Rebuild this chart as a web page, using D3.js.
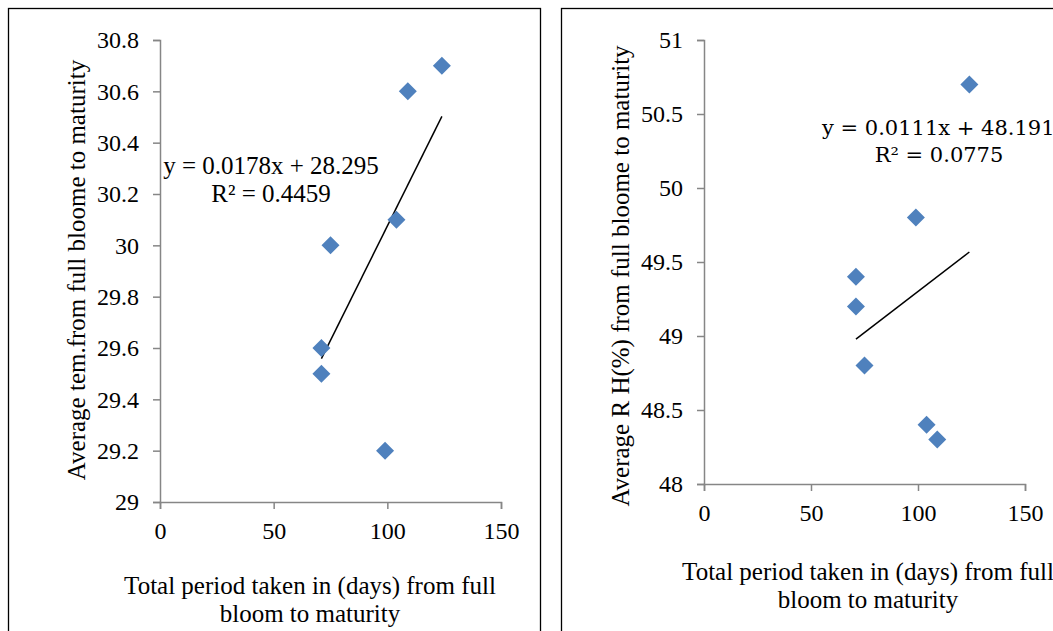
<!DOCTYPE html>
<html>
<head>
<meta charset="utf-8">
<script src="https://cdn.jsdelivr.net/npm/d3@7"></script>
<style>
body { margin: 0; background: #fff; }
svg { display: block; }
svg text { font-family: 'Liberation Serif', 'Times New Roman', Times, 'DejaVu Serif'; fill: #000; }
svg text.eq2 { font-family: 'DejaVu Serif'; }
</style>
</head>
<body>
<div id="vis"></div>
<script>
// shared x values (days from full bloom to maturity)
var days = [124, 109, 104, 75, 71, 71, 99];
var avgTemp = [30.7, 30.6, 30.1, 30.0, 29.6, 29.5, 29.2];
var avgRH = [50.7, 48.3, 48.4, 48.8, 49.4, 49.2, 49.8];
var xTicks = [0, 50, 100, 150];
var tempTicks = [29, 29.2, 29.4, 29.6, 29.8, 30, 30.2, 30.4, 30.6, 30.8];
var rhTicks = [48, 48.5, 49, 49.5, 50, 50.5, 51];
var tempFit = {slope: 0.0178, intercept: 28.295, r2: '0.4459'};
var rhFit = {slope: 0.0111, intercept: 48.191, r2: '0.0775'};

var svg = d3.select('#vis').append('svg').attr('width', 1053).attr('height', 631);

var panels = [
	{
		box: [8.5, 8.5, 532, 640], left: 160, right: 501, top: 40, bottom: 502,
		ys: avgTemp, yDomain: [29, 30.8], yTicks: tempTicks, fit: tempFit,
		yTitle: 'Average tem.from full bloome to maturity', yTitleX: 76, yTitleY: 270,
		xTitleX: 310, xTitleY: 594,
		eqX: 271, eqY: 174, eqClass: 'eq1', eqSize: 25, eqAnchor: 'middle',
		r2X: 271, r2Y: 202
	},
	{
		box: [561.5, 8.5, 540, 640], left: 704, right: 1025, top: 40, bottom: 484,
		ys: avgRH, yDomain: [48, 51], yTicks: rhTicks, fit: rhFit,
		yTitle: 'Average R H(%) from full bloome to maturity', yTitleX: 620, yTitleY: 276,
		xTitleX: 868, xTitleY: 580,
		eqX: 822, eqY: 135, eqClass: 'eq2', eqSize: 21, eqAnchor: 'start',
		r2X: 939, r2Y: 162
	}
];

panels.forEach(function(p) {
	svg.append('rect').attr('x', p.box[0]).attr('y', p.box[1]).attr('width', p.box[2]).attr('height', p.box[3])
		.attr('fill', 'none').attr('stroke', '#000').attr('stroke-width', 1.3);

	var x = d3.scaleLinear().domain([0, 150]).range([p.left, p.right]);
	var y = d3.scaleLinear().domain(p.yDomain).range([p.bottom, p.top]);
	var g = svg.append('g');

	var xAxis = g.append('g').attr('transform', 'translate(0,' + p.bottom + ')')
		.call(d3.axisBottom(x).tickValues(xTicks).tickSize(7).tickPadding(13).tickFormat(d3.format('d')));
	var yAxis = g.append('g').attr('transform', 'translate(' + p.left + ',0)')
		.call(d3.axisLeft(y).tickValues(p.yTicks).tickSize(7).tickPadding(14).tickFormat(function(d) { return String(d); }));
	[xAxis, yAxis].forEach(function(a) {
		a.attr('font-family', null).attr('font-size', null);
		a.select('.domain').attr('stroke', '#868686').attr('stroke-width', 1.5);
		a.selectAll('.tick line').attr('stroke', '#868686').attr('stroke-width', 1.5);
		a.selectAll('.tick text').attr('font-size', 24).attr('fill', '#000');
	});
	xAxis.selectAll('.tick text').attr('dy', '0.71em');

	// trend line across the data range
	var x0 = d3.min(days), x1 = d3.max(days);
	g.append('line')
		.attr('x1', x(x0)).attr('y1', y(p.fit.slope * x0 + p.fit.intercept))
		.attr('x2', x(x1)).attr('y2', y(p.fit.slope * x1 + p.fit.intercept))
		.attr('stroke', '#000').attr('stroke-width', 1.5);

	var pts = days.map(function(d, i) { return [d, p.ys[i]]; });
	g.selectAll('.pt').data(pts).enter().append('path').attr('class', 'pt')
		.attr('d', 'M0,-9L9,0L0,9L-9,0Z')
		.attr('transform', function(d) { return 'translate(' + x(d[0]) + ',' + y(d[1]) + ')'; })
		.attr('fill', '#4f81bd');

	g.append('text').attr('class', p.eqClass).attr('x', p.eqX).attr('y', p.eqY).attr('text-anchor', p.eqAnchor)
		.attr('font-size', p.eqSize)
		.text('y = ' + p.fit.slope + 'x + ' + p.fit.intercept);
	g.append('text').attr('class', p.eqClass).attr('x', p.r2X).attr('y', p.r2Y).attr('text-anchor', 'middle')
		.attr('font-size', p.eqSize)
		.text('R² = ' + p.fit.r2);

	g.append('text').attr('transform', 'translate(' + p.yTitleX + ',' + p.yTitleY + ') rotate(-90)')
		.attr('text-anchor', 'middle').attr('font-size', 25).attr('dy', '0.35em').text(p.yTitle);

	var xt = g.append('text').attr('x', p.xTitleX).attr('y', p.xTitleY).attr('text-anchor', 'middle').attr('font-size', 25);
	xt.append('tspan').attr('x', p.xTitleX).text('Total period taken in (days) from full');
	xt.append('tspan').attr('x', p.xTitleX).attr('dy', 28).text('bloom to maturity');
});
</script>
</body>
</html>
